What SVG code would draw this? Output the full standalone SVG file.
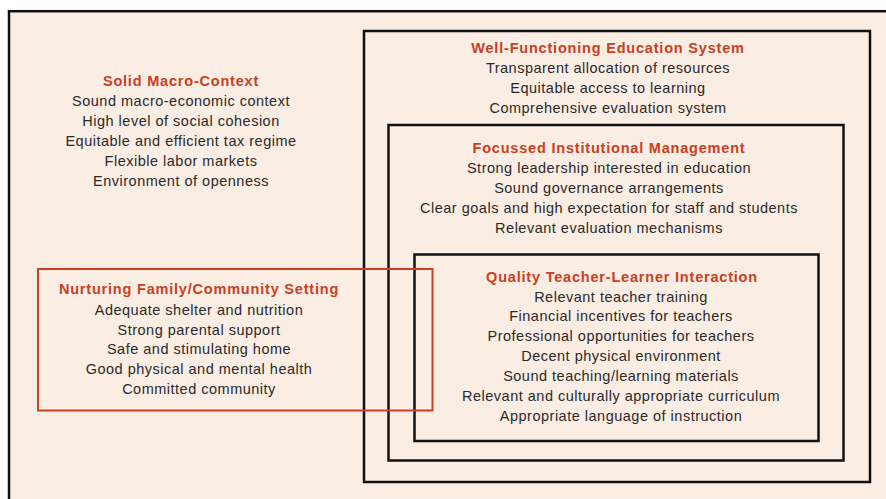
<svg xmlns="http://www.w3.org/2000/svg" width="886" height="499" viewBox="0 0 886 499">
<style>
.frame{fill:none;stroke:#111;stroke-width:2.5}
.red{fill:none;stroke:#c9401f;stroke-width:2}
text{font-family:"Liberation Sans",Arial,sans-serif;font-size:14.5px;letter-spacing:0.5px;fill:#2a2a2a;text-anchor:middle}
.h{font-weight:bold;fill:#c9401f;letter-spacing:0.8px}
</style>
<rect width="886" height="499" fill="#ffffff"/>
<rect x="9" y="11.2" width="900" height="520" fill="#faede3" stroke="#111" stroke-width="2.5"/>
<g id="macro">
<text x="181" y="86" class="h">Solid Macro-Context</text>
<text x="181" y="106">Sound macro-economic context</text>
<text x="181" y="126">High level of social cohesion</text>
<text x="181" y="146">Equitable and efficient tax regime</text>
<text x="181" y="166">Flexible labor markets</text>
<text x="181" y="186">Environment of openness</text>
</g>
<g id="system">
<rect x="364" y="31" width="506" height="451" class="frame"/>
<text x="608" y="53" class="h">Well-Functioning Education System</text>
<text x="608" y="73">Transparent allocation of resources</text>
<text x="608" y="93">Equitable access to learning</text>
<text x="608" y="113">Comprehensive evaluation system</text>
</g>
<g id="management">
<rect x="388.5" y="125" width="455" height="335.5" class="frame"/>
<text x="609" y="153" class="h">Focussed Institutional Management</text>
<text x="609" y="173">Strong leadership interested in education</text>
<text x="609" y="193">Sound governance arrangements</text>
<text x="609" y="213">Clear goals and high expectation for staff and students</text>
<text x="609" y="233">Relevant evaluation mechanisms</text>
</g>
<g id="interaction">
<rect x="414.5" y="254.5" width="404" height="186.5" class="frame"/>
<text x="622" y="281.7" class="h">Quality Teacher-Learner Interaction</text>
<text x="621" y="301.5">Relevant teacher training</text>
<text x="621" y="321.4">Financial incentives for teachers</text>
<text x="621" y="341.2">Professional opportunities for teachers</text>
<text x="621" y="361.1">Decent physical environment</text>
<text x="621" y="380.9">Sound teaching/learning materials</text>
<text x="621" y="400.8">Relevant and culturally appropriate curriculum</text>
<text x="621" y="420.6">Appropriate language of instruction</text>
</g>
<g id="family">
<rect x="38" y="269" width="394.5" height="141.5" class="red"/>
<text x="199" y="294.3" class="h">Nurturing Family/Community Setting</text>
<text x="199" y="315">Adequate shelter and nutrition</text>
<text x="199" y="335">Strong parental support</text>
<text x="199" y="354.3">Safe and stimulating home</text>
<text x="199" y="374.3">Good physical and mental health</text>
<text x="199" y="394.3">Committed community</text>
</g>
<g id="connectors"></g>
</svg>
